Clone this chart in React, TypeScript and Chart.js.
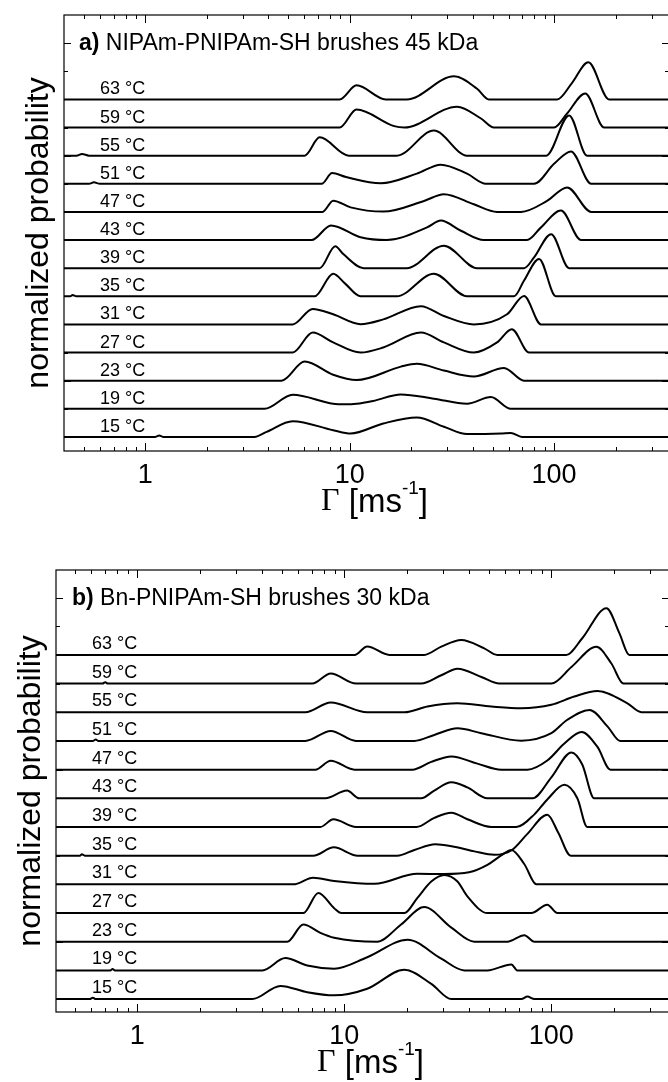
import React, { useEffect, useRef } from 'react';
import { Chart, registerables } from 'chart.js';

Chart.register(...registerables);

type Pt = [number, number];

// ---------- shared categories / ticks ----------
const TEMPS = [15, 19, 23, 27, 31, 35, 39, 43, 47, 51, 55, 59, 63];
const X_MAJOR = [1, 10, 100];
const X_TICK_LABELS = ['1', '10', '100'];
const X_MINOR = [0.5, 0.6, 0.7, 0.8, 0.9, 2, 3, 4, 5, 6, 7, 8, 9, 20, 30, 40, 50, 60, 70, 80, 90, 200, 300];

// ---------- panel a) NIPAm-PNIPAm-SH 45 kDa : [Γ (ms^-1), normalized height] ----------
const A_15: Pt[] = [[1.12, 0], [1.17, 0.05], [1.22, 0], [3.42, 0], [3.92, 0.18], [5.26, 0.56], [8.3, 0.24], [10.1, 0.12], [14.6, 0.48], [21.3, 0.69], [28.9, 0.36], [37.5, 0.1], [55, 0.12], [61.4, 0.14], [69.7, 0]];
const A_19: Pt[] = [[3.83, 0], [5.26, 0.5], [8.3, 0.18], [9.5, 0.16], [10.8, 0.18], [13, 0.28], [17.8, 0.51], [25.8, 0.36], [37.5, 0.18], [49.1, 0.42], [61.4, 0]];
const A_23: Pt[] = [[4.64, 0], [6.02, 0.68], [8.3, 0.21], [10.8, 0.02], [17.8, 0.5], [21.3, 0.6], [28.9, 0.36], [40.5, 0.15], [56.9, 0.45], [71.3, 0]];
const A_27: Pt[] = [[5.26, 0], [6.59, 0.71], [8.3, 0.36], [11.3, 0], [14.6, 0.18], [22.3, 0.71], [28.9, 0.36], [40.5, 0], [52.6, 0.36], [62.1, 0.83], [75.5, 0]];
const A_31: Pt[] = [[5.26, 0], [6.59, 0.55], [8.3, 0.36], [11.3, 0.01], [14.6, 0.18], [22.3, 0.65], [28.9, 0.3], [40.5, 0], [58.9, 0.36], [71.3, 1.01], [86.3, 0]];
const A_35: Pt[] = [[0.43, 0], [0.44, 0.05], [0.46, 0], [6.74, 0], [8.3, 0.8], [9.5, 0.45], [11.3, 0], [17.0, 0], [25.8, 0.8], [37.5, 0], [63.7, 0], [71.3, 0.56], [84.4, 1.33], [102, 0]];
const A_39: Pt[] = [[7.13, 0], [8.5, 0.78], [9.3, 0.5], [11.7, 0], [19.0, 0], [28.9, 0.8], [42.0, 0], [71.3, 0], [79.8, 0.38], [96.7, 1.21], [118.5, 0]];
const A_43: Pt[] = [[6.51, 0], [8.1, 0.52], [11.3, 0.1], [15.2, 0], [23.9, 0.45], [27.9, 0.69], [35, 0.33], [45.4, 0], [73.7, 0], [86.3, 0.45], [108, 1.05], [135.6, 0]];
const A_47: Pt[] = [[7.36, 0], [8.3, 0.4], [10.1, 0.16], [14.6, 0.01], [23.1, 0.39], [28.9, 0.63], [40.5, 0.27], [52.6, 0], [68.9, 0], [92.4, 0.39], [115.8, 0.87], [152, 0]];
const A_51: Pt[] = [[0.53, 0], [0.56, 0.05], [0.6, 0], [7.29, 0], [8.2, 0.38], [9.6, 0.24], [14.2, 0.02], [21.3, 0.36], [27.9, 0.68], [37.5, 0.36], [46.4, 0], [79.8, 0], [100, 0.71], [121, 1.15], [152, 0]];
const A_55: Pt[] = [[0.46, 0], [0.49, 0.06], [0.53, 0], [6.02, 0], [7.13, 0.65], [9.89, 0], [17.0, 0], [25.8, 0.89], [37.5, 0], [91.4, 0], [118.5, 1.43], [145, 0]];
const A_59: Pt[] = [[8.93, 0], [10.8, 0.64], [16.5, 0.05], [18.5, 0], [33.5, 0.74], [43.9, 0.32], [50.8, 0], [100, 0], [115.8, 0.5], [142, 1.21], [176, 0]];
const A_63: Pt[] = [[8.93, 0], [10.8, 0.5], [15.0, 0], [19.0, 0], [32.4, 0.82], [42.0, 0.38], [48.0, 0], [103.5, 0], [122, 0.57], [147, 1.32], [186, 0]];

// ---------- panel b) Bn-PNIPAm-SH 30 kDa ----------
const B_15: Pt[] = [[0.59, 0], [0.61, 0.05], [0.63, 0], [3.59, 0], [4.91, 0.46], [6.62, 0.24], [8.93, 0.13], [12.9, 0.36], [19.5, 1.02], [26.3, 0.53], [32.9, 0], [71.6, 0], [76.6, 0.09], [82.8, 0]];
const B_19: Pt[] = [[0.74, 0], [0.76, 0.05], [0.78, 0], [4.02, 0], [5.19, 0.43], [6.62, 0.17], [8.93, 0.06], [12.9, 0.46], [20.2, 1.07], [29.4, 0.41], [38.0, 0], [49.1, 0], [64.1, 0.21], [68.5, 0]];
const B_23: Pt[] = [[5.3, 0], [6.34, 0.6], [7.66, 0.31], [8.93, 0.14], [14.4, 0], [18.8, 0.6], [24.3, 1.21], [32.9, 0.49], [42.5, 0], [61.3, 0], [74.1, 0.23], [82.8, 0]];
const B_27: Pt[] = [[6.34, 0], [7.49, 0.7], [8.93, 0.17], [9.67, 0], [19.5, 0], [22.5, 0.52], [26.3, 1.1], [30.4, 1.33], [35.2, 1.1], [39.3, 0.58], [49.1, 0], [80, 0], [95.6, 0.29], [107, 0]];
const B_31: Pt[] = [[5.67, 0], [7.07, 0.23], [8.93, 0.12], [14.0, 0.02], [22.5, 0.37], [30.4, 0.36], [40, 0.42], [49.1, 0.68], [57, 1.0], [64.1, 1.2], [74.1, 0.7], [84.7, 0]];
const B_35: Pt[] = [[0.53, 0], [0.54, 0.05], [0.56, 0], [7.07, 0], [8.9, 0.29], [11.6, 0], [18.0, 0], [21.8, 0.2], [27.5, 0.4], [33, 0.33], [42.5, 0.15], [53, 0.03], [64, 0.18], [76.6, 0.76], [95.6, 1.43], [108, 0.8], [124, 0]];
const B_39: Pt[] = [[7.66, 0], [8.85, 0.27], [11.4, 0], [22.3, 0], [27.2, 0.32], [32.9, 0.5], [39.3, 0.27], [51.3, 0], [67.7, 0], [82.8, 0.44], [95.6, 0.96], [115.6, 1.47], [133.5, 1.0], [149, 0]];
const B_43: Pt[] = [[8.1, 0], [10.3, 0.27], [11.8, 0], [23.5, 0], [27.2, 0.27], [32.9, 0.56], [39.3, 0.38], [49.1, 0], [81, 0], [100, 0.73], [125, 1.6], [141, 1.18], [161, 0]];
const B_47: Pt[] = [[7.24, 0], [8.6, 0.31], [11.2, 0], [21.3, 0], [26.3, 0.27], [32.9, 0.46], [43.9, 0.21], [57.3, 0], [76.6, 0], [95.6, 0.32], [115.6, 0.91], [140, 1.31], [167, 0.79], [193, 0]];
const B_51: Pt[] = [[0.61, 0], [0.63, 0.05], [0.65, 0], [6.48, 0], [8.6, 0.35], [11.4, 0], [21.8, 0], [27.2, 0.21], [35.2, 0.44], [45.9, 0.27], [71.6, 0.01], [100, 0.27], [119, 0.73], [153, 1.08], [187, 0.5], [215, 0]];
const B_55: Pt[] = [[6.48, 0], [8.6, 0.34], [12.9, 0], [19.5, 0], [25.2, 0.2], [35.2, 0.31], [51.3, 0.2], [71.6, 0.14], [100, 0.26], [129, 0.55], [167, 0.74], [233, 0.31], [272, 0]];
const B_59: Pt[] = [[0.68, 0], [0.7, 0.05], [0.72, 0], [7.0, 0], [8.6, 0.35], [11.4, 0], [23.5, 0], [29.4, 0.29], [35.2, 0.52], [45.9, 0.23], [56.1, 0], [100, 0], [125, 0.58], [165, 1.28], [195, 0.7], [223, 0]];
const B_63: Pt[] = [[11.2, 0], [12.9, 0.29], [16.5, 0], [24.3, 0], [29.4, 0.29], [36.7, 0.52], [47.4, 0.23], [54.8, 0], [118, 0], [141, 0.58], [184.5, 1.63], [213, 0.76], [238, 0]];

const PANEL_A_CURVES = [A_15, A_19, A_23, A_27, A_31, A_35, A_39, A_43, A_47, A_51, A_55, A_59, A_63];
const PANEL_B_CURVES = [B_15, B_19, B_23, B_27, B_31, B_35, B_39, B_43, B_47, B_51, B_55, B_59, B_63];

const SANS = '"Liberation Sans", Arial, Helvetica, sans-serif';
const SERIF = '"Liberation Serif", "Times New Roman", serif';

interface PanelCfg {
  curves: Pt[][];
  xMin: number;
  xMax: number;
  yMin: number;
  yMax: number;
  pad: { left: number; top: number; right: number; bottom: number };
  bold: string;
  title: string;
  titleDx: number;
  tempDy: number;
}

const CANVAS_W = 672;
const CANVAS_H = 541;

const PANEL_A: PanelCfg = {
  curves: PANEL_A_CURVES,
  xMin: 0.4,
  xMax: 365,
  yMin: -0.5,
  yMax: 15,
  pad: { left: 64, top: 15, right: CANVAS_W - 669, bottom: CANVAS_H - 451 },
  bold: 'a)',
  title: 'NIPAm-PNIPAm-SH brushes 45 kDa',
  titleDx: 15,
  tempDy: 5,
};

const PANEL_B: PanelCfg = {
  curves: PANEL_B_CURVES,
  xMin: 0.405,
  xMax: 370,
  yMin: -0.45,
  yMax: 14.96,
  pad: { left: 56, top: 29, right: CANVAS_W - 669, bottom: CANVAS_H - 471 },
  bold: 'b)',
  title: 'Bn-PNIPAm-SH brushes 30 kDa',
  titleDx: 16,
  tempDy: 6,
};

function makeDecor(cfg: PanelCfg) {
  return {
    id: 'decor',
    afterDraw(chart: any) {
      const { ctx, chartArea: ca, scales } = chart;
      const xs = scales.x;
      const ys = scales.y;
      ctx.save();
      // frame
      ctx.strokeStyle = '#000';
      ctx.lineWidth = 1.2;
      ctx.strokeRect(ca.left, ca.top, ca.right - ca.left, ca.bottom - ca.top);
      // ticks
      ctx.beginPath();
      const xTick = (v: number, len: number) => {
        const px = Math.round(xs.getPixelForValue(v)) + 0.5;
        if (px < ca.left || px > ca.right) return;
        ctx.moveTo(px, ca.bottom);
        ctx.lineTo(px, ca.bottom - len);
        ctx.moveTo(px, ca.top);
        ctx.lineTo(px, ca.top + len);
      };
      X_MAJOR.forEach((v) => xTick(v, 8));
      X_MINOR.forEach((v) => xTick(v, 4));
      for (let u = Math.ceil(ys.min); u < ys.max; u++) {
        const py = Math.round(ys.getPixelForValue(u)) + 0.5;
        const len = u % 2 === 0 ? 7 : 4;
        ctx.moveTo(ca.left, py);
        ctx.lineTo(ca.left + len, py);
        ctx.moveTo(ca.right, py);
        ctx.lineTo(ca.right - len, py);
      }
      ctx.lineWidth = 1;
      ctx.stroke();

      ctx.fillStyle = '#000';
      ctx.textBaseline = 'alphabetic';
      // tick labels
      ctx.font = `27px ${SANS}`;
      ctx.textAlign = 'center';
      X_TICK_LABELS.forEach((t, i) => {
        ctx.fillText(t, xs.getPixelForValue(X_MAJOR[i]), ca.bottom + 32);
      });
      // temperature labels
      ctx.font = `18px ${SANS}`;
      ctx.textAlign = 'left';
      TEMPS.forEach((t, i) => {
        ctx.fillText(`${t} °C`, ca.left + 36, ys.getPixelForValue(i) - cfg.tempDy);
      });
      // panel title
      ctx.font = `bold 23px ${SANS}`;
      const tx = ca.left + cfg.titleDx;
      ctx.fillText(cfg.bold, tx, ca.top + 35);
      const bw = ctx.measureText(cfg.bold + ' ').width;
      ctx.font = `23px ${SANS}`;
      ctx.fillText(cfg.title, tx + bw, ca.top + 35);

      // x-axis title: Γ [ms^-1]
      const base = ca.bottom + 61;
      const cx = (ca.left + ca.right) / 2 + 8;
      ctx.font = `32px ${SERIF}`;
      const wG = ctx.measureText('Γ').width;
      ctx.font = `33px ${SANS}`;
      const wA = ctx.measureText(' [ms').width;
      const wC = ctx.measureText(']').width;
      ctx.font = `19px ${SANS}`;
      const wB = ctx.measureText('-1').width;
      let x0 = cx - (wG + wA + wB + wC) / 2;
      ctx.textAlign = 'left';
      ctx.font = `32px ${SERIF}`;
      ctx.fillText('Γ', x0, base - 2);
      x0 += wG;
      ctx.font = `33px ${SANS}`;
      ctx.fillText(' [ms', x0, base);
      x0 += wA;
      ctx.font = `19px ${SANS}`;
      ctx.fillText('-1', x0, base - 18);
      x0 += wB;
      ctx.font = `33px ${SANS}`;
      ctx.fillText(']', x0, base);

      // y-axis title
      ctx.save();
      ctx.translate(ca.left - 16, (ca.top + ca.bottom) / 2);
      ctx.rotate(-Math.PI / 2);
      ctx.textAlign = 'center';
      ctx.font = `32px ${SANS}`;
      ctx.fillText('normalized probability', 0, 0);
      ctx.restore();

      ctx.restore();
    },
  };
}

function Panel({ cfg, top }: { cfg: PanelCfg; top: number }) {
  const ref = useRef<HTMLCanvasElement | null>(null);
  useEffect(() => {
    if (!ref.current) return;
    const datasets = cfg.curves.map((curve, i) => ({
      label: `${TEMPS[i]} °C`,
      data: [
        { x: cfg.xMin, y: i },
        ...curve.map(([g, h]) => ({ x: g, y: i + h })),
        { x: cfg.xMax, y: i },
      ],
      borderColor: '#000',
      borderWidth: 2,
      pointRadius: 0,
      fill: false,
      cubicInterpolationMode: 'monotone' as const,
      borderJoinStyle: 'round' as const,
    }));
    const chart = new Chart(ref.current, {
      type: 'line',
      data: { datasets },
      options: {
        animation: false,
        responsive: false,
        devicePixelRatio: 1,
        layout: { padding: cfg.pad },
        plugins: { legend: { display: false }, tooltip: { enabled: false } },
        events: [],
        scales: {
          x: { type: 'logarithmic', min: cfg.xMin, max: cfg.xMax, display: false },
          y: { type: 'linear', min: cfg.yMin, max: cfg.yMax, display: false },
        },
      },
      plugins: [makeDecor(cfg)],
    });
    return () => chart.destroy();
  }, [cfg]);
  return (
    <canvas
      ref={ref}
      width={CANVAS_W}
      height={CANVAS_H}
      style={{ position: 'absolute', left: 0, top, width: CANVAS_W, height: CANVAS_H }}
    />
  );
}

export default function App() {
  useEffect(() => {
    document.body.style.margin = '0';
    document.body.style.background = '#fff';
  }, []);
  return (
    <div style={{ position: 'relative', width: 668, height: 1082, overflow: 'hidden', background: '#fff' }}>
      <Panel cfg={PANEL_A} top={0} />
      <Panel cfg={PANEL_B} top={541} />
    </div>
  );
}
